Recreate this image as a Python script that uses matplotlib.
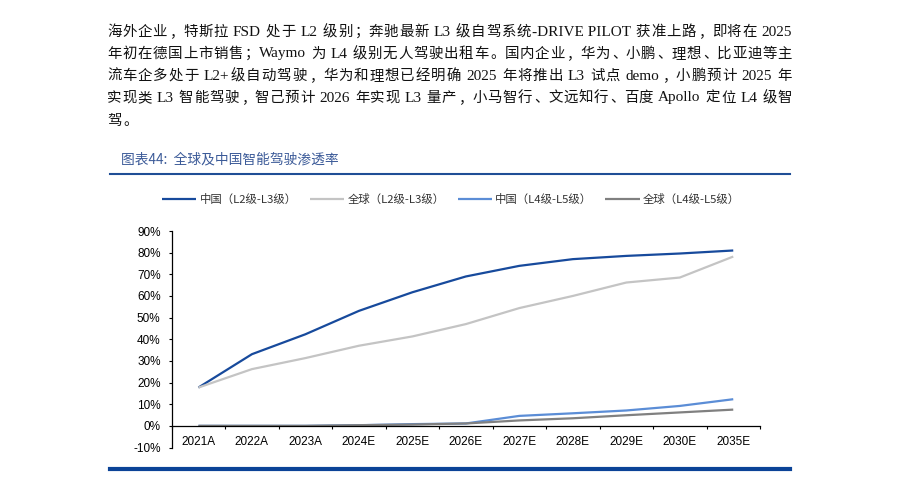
import re
import matplotlib.pyplot as plt
from matplotlib.lines import Line2D
from matplotlib.ticker import FuncFormatter, FixedLocator

# данные с графика
years = ['2021A', '2022A', '2023A', '2024E', '2025E', '2026E',
         '2027E', '2028E', '2029E', '2030E', '2035E']
cn_l2_l3 = [0.177, 0.331, 0.423, 0.531, 0.617, 0.690, 0.739, 0.770, 0.785, 0.796, 0.810]
gl_l2_l3 = [0.177, 0.262, 0.313, 0.370, 0.413, 0.470, 0.544, 0.600, 0.662, 0.685, 0.782]
cn_l4_l5 = [0.0, 0.0, 0.0, 0.003, 0.008, 0.011, 0.046, 0.058, 0.071, 0.092, 0.123]
gl_l4_l5 = [0.0, 0.0, 0.0, 0.003, 0.006, 0.011, 0.025, 0.035, 0.049, 0.062, 0.075]

labels = ['中国（L2级-L3级）', '全球（L2级-L3级）', '中国（L4级-L5级）', '全球（L4级-L5级）']
colors = ['#174A9C', '#C4C4C4', '#5B8DD6', '#808080']

paragraph = [
    '海外企业，特斯拉 FSD 处于 L2 级别；奔驰最新 L3 级自驾系统-DRIVE PILOT 获准上路，即将在 2025',
    '年初在德国上市销售；Waymo 为 L4 级别无人驾驶出租车。国内企业，华为、小鹏、理想、比亚迪等主',
    '流车企多处于 L2+级自动驾驶，华为和理想已经明确 2025 年将推出 L3 试点 demo，小鹏预计 2025 年',
    '实现类 L3 智能驾驶，智己预计 2026 年实现 L3 量产，小马智行、文远知行、百度 Apollo 定位 L4 级智',
    '驾。',
]
title = '图表44:  全球及中国智能驾驶渗透率'

W, H = 899, 483
fig = plt.figure(figsize=(W / 100, H / 100), dpi=100)
renderer = fig.canvas.get_renderer()

# текст над графиком, выровненный по ширине
FS = 10.4
em = FS * 100 / 72
sp = 0.3 * em
punct = '，；。、：'


def draw_line(s, y, x0, x1, justify=True):
    # латиница вместе с пробелами вокруг - один кусок, иероглифы - по одному
    tokens = re.findall(r' ?[\x21-\x7e]+(?: [\x21-\x7e]+)* ?|.', s)
    items = []
    for tok in tokens:
        if tok.isascii():
            core = tok.strip()
            lead = sp if tok.startswith(' ') else 0
            tail = sp if tok.endswith(' ') else 0
            t = fig.text(0, 1 - y / H, core, fontsize=FS + 0.6, va='center', ha='left',
                         family='Liberation Serif', color='#111111')
            w = t.get_window_extent(renderer).width
            items.append(('lat', t, lead, lead + w + tail))
        else:
            t = fig.text(0, 1 - y / H, tok, fontsize=FS, va='center',
                         ha='left' if tok in punct else 'center',
                         family='Noto Sans CJK SC', color='#111111')
            kind = 'pun' if tok in punct else 'cjk'
            items.append((kind, t, 0, em))
    total = sum(it[3] for it in items)
    gap = (x1 - x0 - total) / (len(items) - 1) if justify else 0
    x = x0
    for kind, t, lead, w in items:
        if kind == 'lat':
            t.set_x((x + lead) / W)
        elif kind == 'pun':
            t.set_x((x + 0.1 * em) / W)
        else:
            t.set_x((x + w / 2) / W)
        x += w + gap


line_y = [32, 54, 76, 98, 121]
for i, (s, y) in enumerate(zip(paragraph, line_y)):
    draw_line(s, y, 107, 792, justify=i < len(paragraph) - 1)

fig.text(121 / W, 1 - 159 / H, title, fontsize=9.9, va='center', ha='left',
         family=['Noto Sans CJK SC'], color='#3B5A98', style='italic')

fig.add_artist(Line2D([110 / W, 790 / W], [1 - 174 / H] * 2, color='#1F4E96', lw=1.5))
fig.add_artist(Line2D([110 / W, 790 / W], [1 - 469 / H] * 2, color='#0B4397', lw=3))

# сам график
ax = fig.add_axes([171.7 / W, 1 - 447.5 / H, (760 - 171.7) / W, (447.5 - 231) / H])
x = list(range(len(years)))
series = [cn_l2_l3, gl_l2_l3, cn_l4_l5, gl_l4_l5]
handles = []
for vals, c, lab in zip(series, colors, labels):
    h, = ax.plot(x, vals, color=c, lw=1.6, label=lab, solid_capstyle='butt')
    handles.append(h)

ax.set_xlim(-0.5, len(years) - 0.5)
ax.set_ylim(-0.1, 0.9)
ax.spines['top'].set_visible(False)
ax.spines['right'].set_visible(False)
ax.spines['bottom'].set_position(('data', 0))
ax.spines['bottom'].set_linewidth(0.9)
ax.spines['left'].set_linewidth(0.9)

ax.set_yticks([i / 10 for i in range(-1, 10)])
ax.yaxis.set_major_formatter(FuncFormatter(lambda v, p: f'{round(v * 100)}%'))
ax.tick_params(axis='y', length=2.5, width=0.8, pad=5.5, labelsize=8.5)

ax.set_xticks(x)
ax.set_xticklabels(years)
ax.xaxis.set_minor_locator(FixedLocator([i - 0.5 for i in range(len(years) + 1)]))
ax.tick_params(axis='x', which='major', length=0, pad=7, labelsize=8.5)
ax.tick_params(axis='x', which='minor', length=2.5, width=0.8)
for t in ax.get_xticklabels() + ax.get_yticklabels():
    t.set_family('Liberation Sans')

fig.legend(handles=handles, loc='center left', bbox_to_anchor=(162 / W, 1 - 199.5 / H),
           ncol=4, frameon=False, handlelength=3.0, handletextpad=0.3,
           columnspacing=1.15, borderpad=0, borderaxespad=0,
           prop={'family': ['Noto Sans CJK SC'], 'size': 8.2})
for t in fig.legends[0].get_texts():
    t.set_color('#333333')

fig.savefig('out.png', dpi=100)
